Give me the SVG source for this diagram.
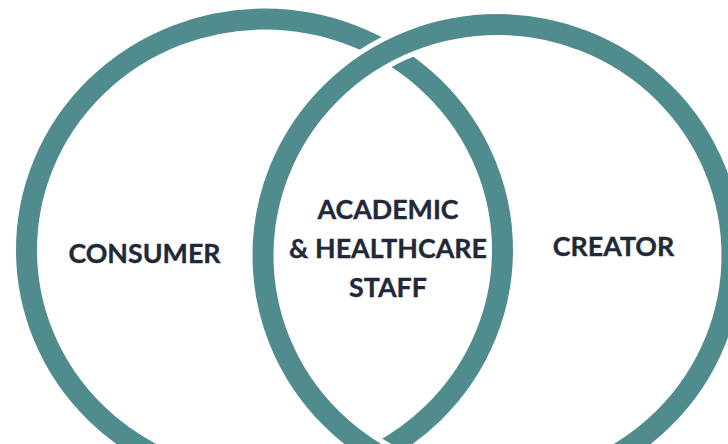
<svg xmlns="http://www.w3.org/2000/svg" width="728" height="444" viewBox="0 0 728 444">
<style>
.ring{fill:none;stroke:#508b8d;stroke-width:21}
.halo{fill:none;stroke:#fff;stroke-width:31}
text{font-family:"Lato","Open Sans",sans-serif;font-weight:700;font-size:26.8px;fill:#1f2937;stroke:#1f2937;stroke-width:.35;text-anchor:middle}
</style>
<rect width="728" height="444" fill="#fff"/>
<g id="connectors">
<ellipse class="ring" cx="264.5" cy="250" rx="238" ry="231"/>
<ellipse class="halo" cx="497.5" cy="255.5" rx="234.5" ry="231"/>
<ellipse class="ring" cx="497.5" cy="255.5" rx="234.5" ry="231"/>
</g>
<g id="consumer"><text x="144.500" y="263">CONSUMER</text></g>
<g id="staff"><text x="388" y="219">ACADEMIC</text><text x="388" y="258">&amp; HEALTHCARE</text><text x="388" y="296.500">STAFF</text></g>
<g id="creator"><text x="613.500" y="256">CREATOR</text></g>
</svg>
